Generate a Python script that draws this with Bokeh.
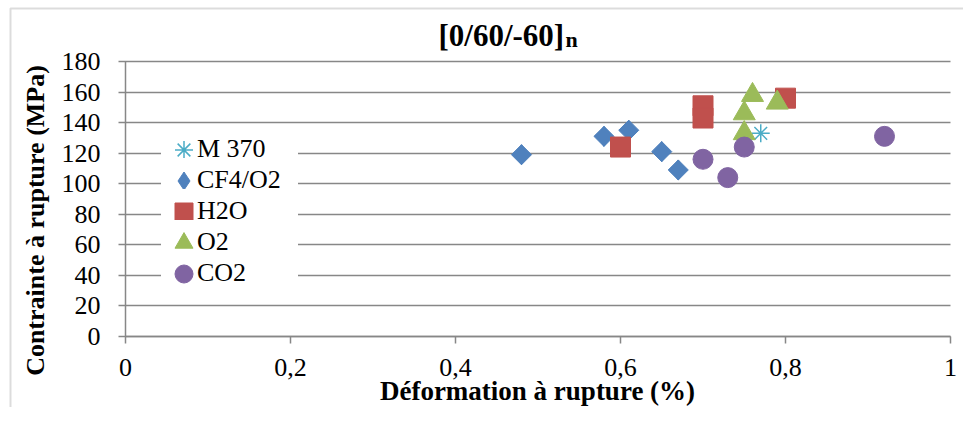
import math
from bokeh.plotting import figure
from bokeh.models import Range1d, FixedTicker, Label, Legend, LegendItem, BoxAnnotation
from bokeh.embed import file_html
from bokeh.resources import INLINE

# ---- data ----
m370_x = [0.77]
m370_y = [133]
cf4_x = [0.48, 0.58, 0.61, 0.65, 0.67]
cf4_y = [119, 131, 135, 121, 109]
h2o_x = [0.60, 0.70, 0.70, 0.80]
h2o_y = [124, 151, 143, 156]
o2_x = [0.76, 0.79, 0.75, 0.75]
o2_y = [158, 153, 146, 133]
co2_x = [0.70, 0.73, 0.75, 0.92]
co2_y = [116, 104, 124, 131]

series_names = ["M 370", "CF4/O2", "H2O", "O2", "CO2"]
x_ticks = [0, 0.2, 0.4, 0.6, 0.8, 1]
x_tick_labels = ["0", "0,2", "0,4", "0,6", "0,8", "1"]
y_ticks = [0, 20, 40, 60, 80, 100, 120, 140, 160, 180]

title_main = "[0/60/-60]"
title_sub = "n"
x_title = "Déformation à rupture (%)"
y_title = "Contrainte à rupture (MPa)"

FONT = "Liberation Serif"
GRID = "#878787"

# ---- layout (canvas pixels) ----
W, H = 963, 407
X0_PX, X1_PX = 125, 950      # where x=0 and x=1 fall
Y0_PX, Y180_PX = 336, 61     # where y=0 and y=180 fall (from top)
BASE_FIX = 9.5               # label baseline correction
sx = (X1_PX - X0_PX) / (x_ticks[-1] - x_ticks[0])
sy = (Y0_PX - Y180_PX) / (y_ticks[-1] - y_ticks[0])
x_range = Range1d(-X0_PX / sx, (W - X0_PX) / sx)
y_range = Range1d(-(H - Y0_PX) / sy, Y0_PX / sy)

def dx(px):   # canvas px -> data x
    return (px - X0_PX) / sx

def dy(py):   # canvas px (from top) -> data y
    return (Y0_PX - py) / sy

p = figure(width=W, height=H, output_backend="svg", toolbar_location=None,
           x_range=x_range, y_range=y_range,
           min_border_left=0, min_border_right=0, min_border_top=0, min_border_bottom=0)
p.outline_line_color = None
p.background_fill_color = "white"
p.border_fill_color = "white"
p.xgrid.visible = False
p.ygrid.visible = False

for ax in (p.xaxis[0], p.yaxis[0]):
    ax.fixed_location = 0
    ax.axis_line_color = GRID
    ax.axis_line_width = 1.5
    ax.major_tick_line_color = GRID
    ax.major_tick_line_width = 1.5
    ax.major_tick_out = 7
    ax.minor_tick_line_color = None
    ax.major_label_text_font = FONT
    ax.major_label_text_font_size = "26px"
    ax.major_label_text_color = "black"

p.xaxis.ticker = FixedTicker(ticks=x_ticks)
p.xaxis.major_label_overrides = dict(zip(x_ticks, x_tick_labels))
p.xaxis.bounds = (x_ticks[0], x_ticks[-1])
p.xaxis.major_tick_in = 0
p.xaxis.major_label_standoff = 15

p.yaxis.ticker = FixedTicker(ticks=y_ticks)
p.yaxis.bounds = (y_ticks[0], y_ticks[-1])
p.yaxis.major_tick_in = X1_PX - X0_PX    # ticks run across the plot as grid lines
p.yaxis.major_label_standoff = 18
p.yaxis.level = "underlay"

# chart border (top / left edges visible, the others fall outside the picture)
p.add_layout(BoxAnnotation(left=dx(10), top=dy(8), right=x_range.end + 1, bottom=y_range.start - 50,
                           fill_alpha=0, line_color="#8c8c8c", line_width=2, level="underlay"))

r_m370 = p.scatter(m370_x, m370_y, marker="asterisk", size=18, line_color="#4BACC6", line_width=1.5)
r_cf4 = p.scatter(cf4_x, cf4_y, marker="diamond", size=20, fill_color="#4F81BD", line_color="#4F81BD")
p.scatter(cf4_x, cf4_y, marker="square", angle=math.pi / 4, size=14.2,
          fill_color="#4F81BD", line_color="#4F81BD")
r_h2o = p.scatter(h2o_x, h2o_y, marker="square", size=20, fill_color="#C0504D", line_color="#C0504D")
r_o2 = p.scatter(o2_x, o2_y, marker="triangle", size=22, fill_color="#9BBB59", line_color="#9BBB59")
r_co2 = p.scatter(co2_x, co2_y, marker="circle", size=20, fill_color="#8064A2", line_color="#8064A2")
r_blank = p.scatter(x=[], y=[], size=0, fill_alpha=0, line_alpha=0)

# legend: one box per marker (keeps the 31px row pitch with 18px markers) ...
ROW0, PITCH = 149, 31
for i, r in enumerate([r_m370, r_cf4, r_h2o, r_o2, r_co2]):
    c = ROW0 + PITCH * i
    lg = Legend(items=[LegendItem(label=" ", renderers=[r])],
                location=(161, H - (c + 22.5)), glyph_width=45, glyph_height=45,
                label_height=45, label_width=92, label_standoff=0, padding=0, margin=0,
                label_text_font_size="26px",
                border_line_color=None, background_fill_color="white", background_fill_alpha=1)
    p.add_layout(lg, "center")
# ... and the series names on top
lg_text = Legend(items=[LegendItem(label=n, renderers=[r_blank]) for n in series_names],
                 location=(191, H - (ROW0 - PITCH / 2 + PITCH * len(series_names))),
                 glyph_width=1, glyph_height=PITCH, label_height=PITCH, spacing=0,
                 label_standoff=5, padding=0, margin=0,
                 label_text_font=FONT, label_text_font_size="26px", label_text_color="black",
                 border_line_color=None, background_fill_alpha=0)
p.add_layout(lg_text, "center")

p.add_layout(Label(x=dx(438), y=dy(44 - BASE_FIX), text=title_main,
                   text_font=FONT, text_font_size="31px", text_font_style="bold",
                   text_align="left", text_baseline="alphabetic", text_color="black"))
p.add_layout(Label(x=dx(565), y=dy(48.5 - BASE_FIX), text=title_sub,
                   text_font=FONT, text_font_size="22px", text_font_style="bold",
                   text_align="left", text_baseline="alphabetic", text_color="black"))
p.add_layout(Label(x=dx(35), y=dy(220), text=y_title, angle=math.pi / 2,
                   text_font=FONT, text_font_size="26px", text_font_style="bold",
                   text_align="center", text_baseline="middle", text_color="black"))
p.add_layout(Label(x=dx(537), y=dy(400 - BASE_FIX), text=x_title,
                   text_font=FONT, text_font_size="27px", text_font_style="bold",
                   text_align="center", text_baseline="alphabetic", text_color="black"))

open("out.html", "w").write(file_html(p, INLINE))
